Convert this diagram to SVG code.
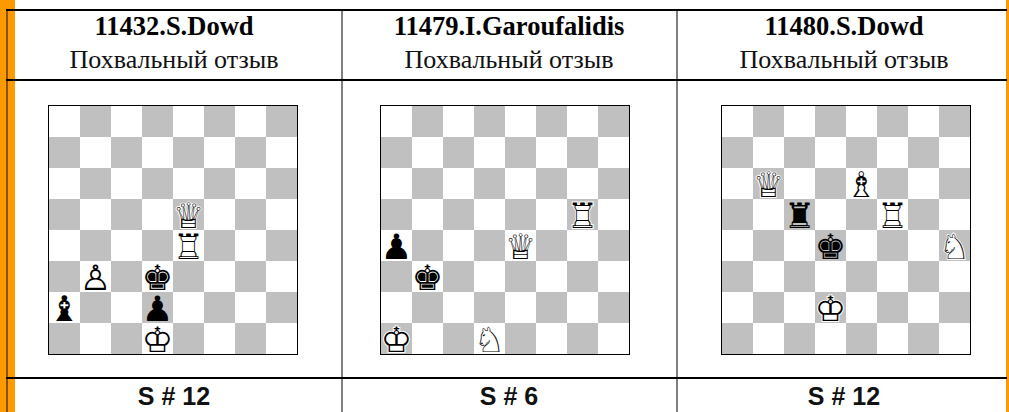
<svg xmlns="http://www.w3.org/2000/svg" xmlns:xlink="http://www.w3.org/1999/xlink" width="1009" height="412" viewBox="0 0 1009 412">
<style>
.hd{font-family:"Liberation Serif","DejaVu Serif",serif;font-weight:bold;font-size:26.5px;text-anchor:middle;fill:#000}
.sub{font-family:"Liberation Serif","DejaVu Serif",serif;font-size:26px;text-anchor:middle;fill:#111}
.ft{font-family:"Liberation Sans",Arial,sans-serif;font-weight:bold;font-size:25px;text-anchor:middle;fill:#111}
.pc{font-family:"DejaVu Sans",sans-serif;font-size:35px;text-anchor:middle}
.bk{fill:#000}
.wb{fill:#fff;stroke:#fff;stroke-width:2}
.wf{fill:#000}
.hl{stroke:#000;stroke-width:2}
.vl{stroke:#555;stroke-width:1.5}
</style>
<defs>
<pattern id="chk" width="62" height="62" patternUnits="userSpaceOnUse">
<rect x="31" y="0" width="31" height="31" fill="#c0c0c0"/>
<rect x="0" y="31" width="31" height="31" fill="#c0c0c0"/>
</pattern>
<g id="board">
<rect x="0" y="0" width="248" height="248" fill="#fff"/>
<rect x="0" y="0" width="248" height="248" fill="url(#chk)"/>
<rect x="-0.5" y="-0.5" width="249" height="249" fill="none" stroke="#000" stroke-width="1"/>
</g>
</defs>
<rect width="1009" height="412" fill="#fff"/>
<rect x="0" y="0" width="15" height="412" fill="#ff9900"/>
<rect x="1006" y="0" width="3" height="412" fill="#ff9900"/>
<g id="table-lines">
<line x1="7" y1="10" x2="7" y2="412" stroke="#5c3d0a" stroke-width="1.5"/>
<line class="vl" x1="342" y1="10" x2="342" y2="412"/>
<line class="vl" x1="677" y1="10" x2="677" y2="412"/>
<line class="hl" x1="6" y1="10" x2="1007" y2="10"/>
<line class="hl" x1="6" y1="80" x2="1007" y2="80"/>
<line class="hl" x1="6" y1="378" x2="1007" y2="378"/>
</g>
<g id="problem-11432">
<text class="hd" x="174" y="35">11432.S.Dowd</text>
<text class="sub" x="174" y="68">Похвальный отзыв</text>
<g transform="translate(49,106)">
<use xlink:href="#board"/>
<g class="pc">
<text class="wb" x="139.5" y="122">♛</text><text class="wf" x="139.5" y="122">♕</text>
<text class="wb" x="139.5" y="153">♜</text><text class="wf" x="139.5" y="153">♖</text>
<text class="wb" x="46.5" y="184">♟</text><text class="wf" x="46.5" y="184">♙</text>
<text class="bk" x="108.5" y="184">♚</text>
<text class="bk" x="15.5" y="215">♝</text>
<text class="bk" x="108.5" y="215">♟</text>
<text class="wb" x="108.5" y="246">♚</text><text class="wf" x="108.5" y="246">♔</text>
</g>
</g>
<text class="ft" x="174" y="405">S # 12</text>
</g>
<g id="problem-11479">
<text class="hd" x="509" y="35">11479.I.Garoufalidis</text>
<text class="sub" x="509" y="68">Похвальный отзыв</text>
<g transform="translate(381,106)">
<use xlink:href="#board"/>
<g class="pc">
<text class="wb" x="201.5" y="122">♜</text><text class="wf" x="201.5" y="122">♖</text>
<text class="bk" x="15.5" y="153">♟</text>
<text class="wb" x="139.5" y="153">♛</text><text class="wf" x="139.5" y="153">♕</text>
<text class="bk" x="46.5" y="184">♚</text>
<text class="wb" x="15.5" y="246">♚</text><text class="wf" x="15.5" y="246">♔</text>
<text class="wb" x="108.5" y="246">♞</text><text class="wf" x="108.5" y="246">♘</text>
</g>
</g>
<text class="ft" x="509" y="405">S # 6</text>
</g>
<g id="problem-11480">
<text class="hd" x="844" y="35">11480.S.Dowd</text>
<text class="sub" x="844" y="68">Похвальный отзыв</text>
<g transform="translate(722,106)">
<use xlink:href="#board"/>
<g class="pc">
<text class="wb" x="46.5" y="91">♛</text><text class="wf" x="46.5" y="91">♕</text>
<text class="wb" x="139.5" y="91">♝</text><text class="wf" x="139.5" y="91">♗</text>
<text class="bk" x="77.5" y="122">♜</text>
<text class="wb" x="170.5" y="122">♜</text><text class="wf" x="170.5" y="122">♖</text>
<text class="bk" x="108.5" y="153">♚</text>
<text class="wb" x="232.5" y="153">♞</text><text class="wf" x="232.5" y="153">♘</text>
<text class="wb" x="108.5" y="215">♚</text><text class="wf" x="108.5" y="215">♔</text>
</g>
</g>
<text class="ft" x="844" y="405">S # 12</text>
</g>
</svg>
